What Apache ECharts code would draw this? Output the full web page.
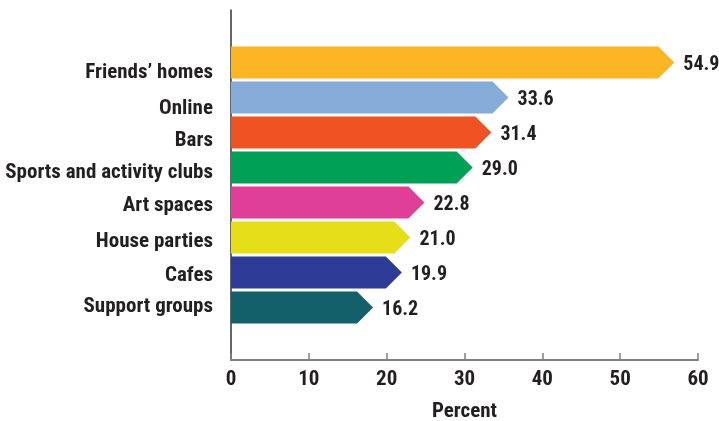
<!DOCTYPE html>
<html>
<head>
<meta charset="utf-8">
<script src="https://cdn.jsdelivr.net/npm/echarts@6/dist/echarts.min.js"></script>
<style>
  html, body { margin: 0; padding: 0; background: #fff; }
  #chart { width: 719px; height: 421px; }
</style>
</head>
<body>
<div id="chart"></div>
<script>
// categories top to bottom, with blank slots above and below like the original
var categories = ['Friends\u2019 homes', 'Online', 'Bars', 'Sports and activity clubs', 'Art spaces', 'House parties', 'Cafes', 'Support groups'];
var values = [54.9, 33.6, 31.4, 29.0, 22.8, 21.0, 19.9, 16.2];
var colors = ['#fbb423', '#87abd8', '#f05323', '#00a056', '#e03f97', '#e5de18', '#2e3b96', '#13606a'];
var xTicks = [0, 10, 20, 30, 40, 50, 60];

// the original's category labels drift a little against the bars (px, + = down)
var labelShift = [10, 11, 8, 5, 3.5, 4.5, 3.5, -0.5];

var FONT = "'Roboto Condensed', 'DejaVu Sans Condensed', sans-serif";

var axisCats = [''].concat(categories).concat(['']);

var chart = echarts.init(document.getElementById('chart'));

var seriesData = values.map(function (v, i) {
    return [v, i + 1];
});

var labelRich = {};
labelShift.forEach(function (s, i) {
    labelRich['c' + i] = {
        fontFamily: FONT,
        fontWeight: 'bold',
        fontSize: 21,
        color: '#231f20',
        padding: s >= 0 ? [2 * s, 0, 0, 0] : [0, 0, -2 * s, 0]
    };
});

function renderArrow(params, api) {
    var val = api.value(0);
    var idx = api.value(1);
    var start = api.coord([0, idx]);
    var end = api.coord([val, idx]);
    var h = 32;
    var y0 = start[1] - h / 2;
    var y1 = start[1] + h / 2;
    var tip = end[0] + h / 2;
    return {
        type: 'group',
        children: [{
            type: 'polygon',
            shape: {
                points: [[start[0], y0], [end[0], y0], [tip, start[1]], [end[0], y1], [start[0], y1]]
            },
            style: { fill: colors[params.dataIndex] }
        }, {
            type: 'text',
            x: tip + 9,
            y: start[1] + 2,
            style: {
                text: val.toFixed(1),
                fill: '#231f20',
                font: 'bold 20px ' + FONT,
                verticalAlign: 'middle',
                align: 'left'
            }
        }]
    };
}

option = {
    animation: false,
    grid: { left: 231, right: 21, top: 10, bottom: 61, containLabel: false, outerBoundsMode: 'none' },
    xAxis: {
        type: 'value',
        min: 0,
        max: 60,
        interval: 10,
        name: 'Percent',
        nameLocation: 'middle',
        nameGap: 41,
        nameTextStyle: {
            fontFamily: FONT,
            fontWeight: 'bold',
            fontSize: 21,
            color: '#231f20'
        },
        axisLine: { show: true, lineStyle: { color: '#808080', width: 2 } },
        axisTick: { show: true, inside: true, length: 7, lineStyle: { color: '#808080', width: 1.5 } },
        splitLine: { show: false },
        axisLabel: {
            margin: 9,
            fontFamily: FONT,
            fontWeight: 'bold',
            fontSize: 21,
            color: '#231f20',
            formatter: function (v) { return xTicks.indexOf(v) >= 0 ? String(v) : ''; }
        }
    },
    yAxis: {
        type: 'category',
        data: axisCats,
        inverse: true,
        axisLine: { show: true, lineStyle: { color: '#333', width: 1.5 } },
        axisTick: { show: false },
        axisLabel: {
            margin: 18,
            fontFamily: FONT,
            fontWeight: 'bold',
            fontSize: 21,
            color: '#231f20',
            formatter: function (v, i) {
                if (!v) { return ''; }
                return '{c' + (i - 1) + '|' + v + '}';
            },
            rich: labelRich
        }
    },
    series: [{
        type: 'custom',
        renderItem: renderArrow,
        encode: { x: 0, y: 1 },
        data: seriesData
    }]
};

if (option && typeof option === "object") {
    chart.setOption(option, true);
}
</script>
</body>
</html>
